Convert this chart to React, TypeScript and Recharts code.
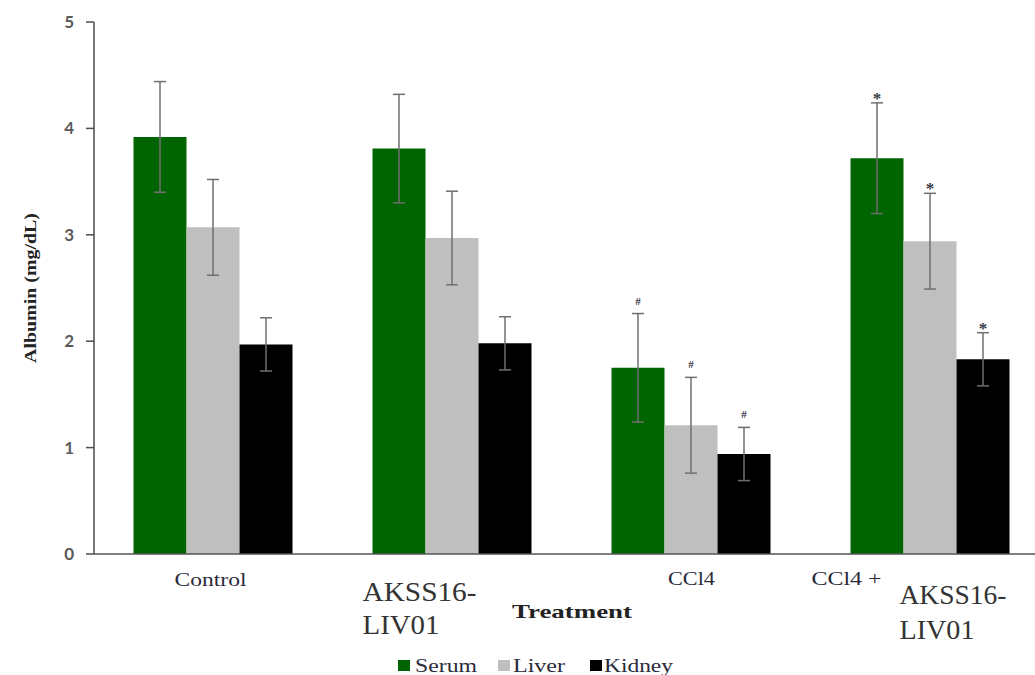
import { BarChart, Bar, XAxis, YAxis, ErrorBar, LabelList, Legend, Label } from 'recharts';

// tick label lines per group (the reference breaks them oddly)
const tickLines = [['Control'], ['AKSS16-', 'LIV01'], ['CCl4'], ['CCl4 +', 'AKSS16-', 'LIV01']];
const categories = tickLines.map((l) => l.join(' '));

const serum = [3.92, 3.81, 1.75, 3.72];
const liver = [3.07, 2.97, 1.21, 2.94];
const kidney = [1.97, 1.98, 0.94, 1.83];
const serumSd = [0.52, 0.51, 0.51, 0.52];
const liverSd = [0.45, 0.44, 0.45, 0.45];
const kidneySd = [0.25, 0.25, 0.25, 0.25];
const marks = ['', '', '#', '*'];
const yTicks = [0, 1, 2, 3, 4, 5];

const SERUM_COLOR = '#006400';
const LIVER_COLOR = '#bfbfbf';
const KIDNEY_COLOR = '#000000';
const ERR_COLOR = '#6f6f6f';

const data = categories.map((name, i) => ({
  name,
  serum: serum[i],
  liver: liver[i],
  kidney: kidney[i],
  serumSd: serumSd[i],
  liverSd: liverSd[i],
  kidneySd: kidneySd[i],
}));

// per-tick text layout: [dx, dy, fontSize, textLength, anchor]
const tickStyle: Record<number, [number, number, number, number, string][]> = {
  0: [[-3, 32, 18, 72, 'middle']],
  1: [[-90, 47, 27, 114, 'start'], [-90, 80, 27, 77, 'start']],
  2: [[0, 31, 18, 47, 'middle']],
  3: [[-119, 31, 18, 70, 'start'], [-31, 50, 27, 107, 'start'], [-31, 85, 27, 75, 'start']],
};

function CategoryTick(props: any) {
  const { x, y, payload } = props;
  const i = payload.index;
  const lines = tickLines[i];
  return (
    <g>
      {lines.map((t, k) => {
        const [dx, dy, fs, tl, anchor] = tickStyle[i][k];
        return (
          <text
            key={k}
            x={x + dx}
            y={y + dy}
            fontSize={fs}
            fontFamily="Liberation Serif"
            fill={fs > 20 ? '#333' : '#2b2b3b'}
            textAnchor={anchor}
            textLength={tl}
            lengthAdjust="spacingAndGlyphs"
          >
            {t}
          </text>
        );
      })}
    </g>
  );
}

function markRenderer(means: number[], sds: number[]) {
  return (props: any) => {
    const { x, y, width, height, index } = props;
    const m = marks[index];
    if (!m) return null;
    const errTop = y - (sds[index] * height) / means[index];
    const isStar = m === '*';
    return (
      <text
        x={x + width / 2}
        y={isStar ? errTop + 1 : errTop - 9}
        fontSize={isStar ? 17 : 11}
        fontFamily="Liberation Serif"
        fontWeight="bold"
        fill="#3a3a4a"
        textAnchor="middle"
      >
        {m}
      </text>
    );
  };
}

function LegendContent() {
  const items = [
    { name: 'Serum', color: SERUM_COLOR, sq: 8, tx: 25, tl: 62 },
    { name: 'Liver', color: LIVER_COLOR, sq: 108, tx: 123, tl: 52 },
    { name: 'Kidney', color: KIDNEY_COLOR, sq: 200, tx: 214, tl: 69 },
  ];
  return (
    <svg width={300} height={30}>
      {items.map((it) => (
        <g key={it.name}>
          <rect x={it.sq} y={10} width={12} height={11} fill={it.color} />
          <text
            x={it.tx}
            y={22}
            fontSize={18}
            fontFamily="Liberation Serif"
            fill="#2b2b3b"
            textLength={it.tl}
            lengthAdjust="spacingAndGlyphs"
          >
            {it.name}
          </text>
        </g>
      ))}
    </svg>
  );
}

export default function App() {
  return (
    <div style={{ position: 'absolute', left: 0, top: 0, width: 1035, height: 675, overflow: 'hidden', background: '#fff' }}>
      <BarChart
        width={1060}
        height={675}
        data={data}
        margin={{ top: 22, right: 10, left: 0, bottom: 0 }}
        barCategoryGap={39.5}
        barGap={0}
      >
        <XAxis
          dataKey="name"
          height={121}
          interval={0}
          tick={<CategoryTick />}
          tickLine={false}
          tickSize={0}
          tickMargin={0}
          axisLine={{ stroke: '#555', strokeWidth: 1.5 }}
        >
          <Label
            content={(p: any) => (
              <text
                x={p.viewBox.x + p.viewBox.width / 2}
                y={p.viewBox.y + 64}
                fontSize={19}
                fontWeight="bold"
                fontFamily="Liberation Serif"
                fill="#222"
                textAnchor="middle"
                textLength={120}
                lengthAdjust="spacingAndGlyphs"
              >
                Treatment
              </text>
            )}
          />
        </XAxis>
        <YAxis
          width={94}
          domain={[0, 5]}
          ticks={yTicks}
          interval={0}
          tickSize={8}
          tickMargin={12}
          tick={{ fontSize: 17, fontFamily: 'Lato', fontWeight: 'bold', fill: '#5a5a5a' }}
          tickLine={{ stroke: '#4d4d4d', strokeWidth: 1.5 }}
          axisLine={{ stroke: '#4d4d4d', strokeWidth: 1.5 }}
        >
          <Label
            content={(p: any) => {
              const cx = 36;
              const cy = p.viewBox.y + p.viewBox.height / 2;
              return (
                <text
                  x={cx}
                  y={cy}
                  transform={`rotate(-90, ${cx}, ${cy})`}
                  fontSize={17}
                  fontWeight="bold"
                  fontFamily="Liberation Serif"
                  fill="#222"
                  textAnchor="middle"
                  textLength={150}
                  lengthAdjust="spacingAndGlyphs"
                >
                  Albumin (mg/dL)
                </text>
              );
            }}
          />
        </YAxis>
        <Legend
          layout="horizontal"
          verticalAlign="middle"
          content={<LegendContent />}
          wrapperStyle={{ left: 390, top: 650, width: 300, height: 30 }}
        />
        <Bar dataKey="serum" name="Serum" fill={SERUM_COLOR} isAnimationActive={false}>
          <ErrorBar dataKey="serumSd" width={6} stroke={ERR_COLOR} strokeWidth={1.5} direction="y" />
          <LabelList dataKey="serum" content={markRenderer(serum, serumSd)} />
        </Bar>
        <Bar dataKey="liver" name="Liver" fill={LIVER_COLOR} isAnimationActive={false}>
          <ErrorBar dataKey="liverSd" width={6} stroke={ERR_COLOR} strokeWidth={1.5} direction="y" />
          <LabelList dataKey="liver" content={markRenderer(liver, liverSd)} />
        </Bar>
        <Bar dataKey="kidney" name="Kidney" fill={KIDNEY_COLOR} isAnimationActive={false}>
          <ErrorBar dataKey="kidneySd" width={6} stroke={ERR_COLOR} strokeWidth={1.5} direction="y" />
          <LabelList dataKey="kidney" content={markRenderer(kidney, kidneySd)} />
        </Bar>
      </BarChart>
    </div>
  );
}
